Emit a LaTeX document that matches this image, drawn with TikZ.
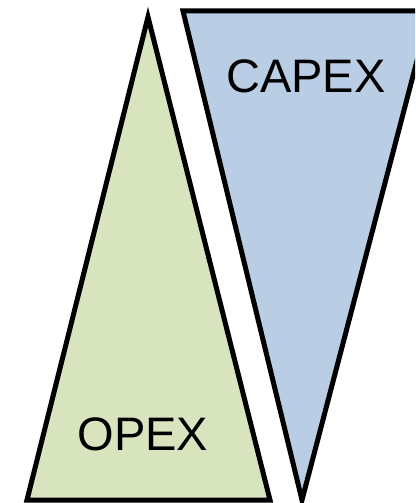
\documentclass[tikz,border=0pt]{standalone}
\usepackage{fontspec}
\setmainfont{Liberation Sans}
\definecolor{opexgreen}{HTML}{D7E4BD}
\definecolor{capexblue}{HTML}{B9CDE5}
\begin{document}
\begin{tikzpicture}[x=1pt,y=-1pt,
  tri/.style={draw=black,line width=5pt,line join=miter},
  lbl/.style={font=\fontsize{47}{47}\selectfont,inner sep=0pt,anchor=center}]
\useasboundingbox (0,0) rectangle (415,503);
\clip (0,0) rectangle (415,503);
\fill[white] (0,0) rectangle (415,503);
\draw[tri,fill=opexgreen] (148,17) -- (270,500) -- (27,500) -- cycle;
\draw[tri,fill=capexblue] (183,11) -- (430,11) -- (302,500) -- cycle;
\node[lbl] (opex) at (143,434) {OPEX};
\node[lbl] (capex) at (306,76) {CAPEX};
\end{tikzpicture}
\end{document}
